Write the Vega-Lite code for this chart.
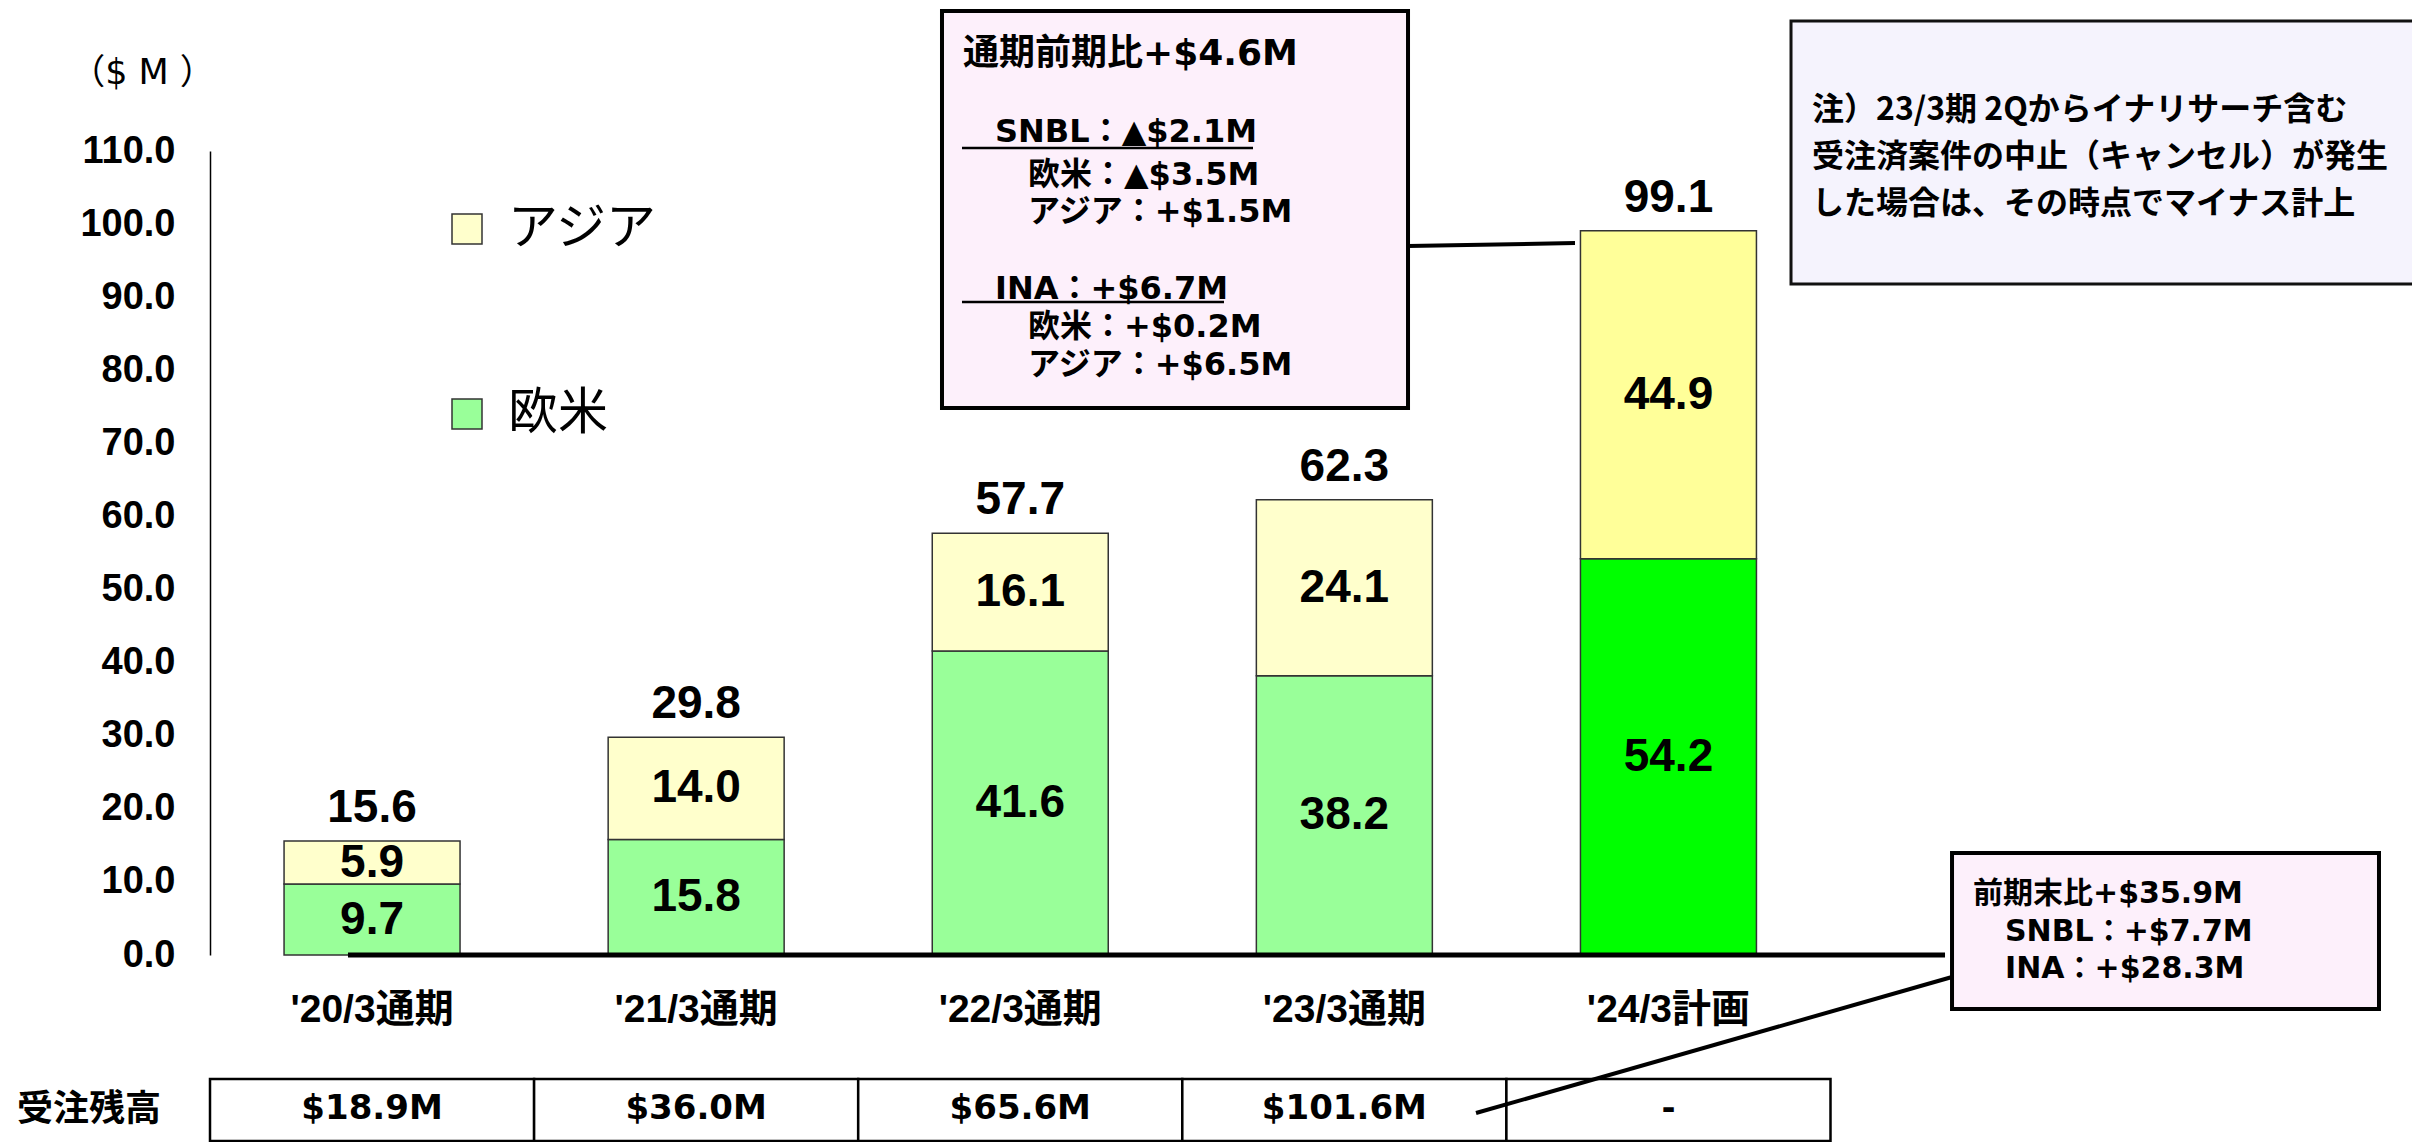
{
  "$schema": "https://vega.github.io/schema/vega-lite/v6.json",
  "background": "white",
  "autosize": "none",
  "width": 2202,
  "height": 804,
  "padding": {"left": 210, "top": 151, "right": 0, "bottom": 187},
  "config": {"view": {"stroke": null}},
  "datasets": {
    "orders": [
      {"period": "'20/3通期", "region": "欧米", "series": "欧米", "value": 9.7},
      {"period": "'20/3通期", "region": "アジア", "series": "アジア", "value": 5.9},
      {"period": "'21/3通期", "region": "欧米", "series": "欧米", "value": 15.8},
      {"period": "'21/3通期", "region": "アジア", "series": "アジア", "value": 14.0},
      {"period": "'22/3通期", "region": "欧米", "series": "欧米", "value": 41.6},
      {"period": "'22/3通期", "region": "アジア", "series": "アジア", "value": 16.1},
      {"period": "'23/3通期", "region": "欧米", "series": "欧米", "value": 38.2},
      {"period": "'23/3通期", "region": "アジア", "series": "アジア", "value": 24.1},
      {"period": "'24/3計画", "region": "欧米", "series": "欧米（計画）", "value": 54.2},
      {"period": "'24/3計画", "region": "アジア", "series": "アジア（計画）", "value": 44.9}
    ],
    "backlog": [
      {"period": "'20/3通期", "backlog": "$18.9M"},
      {"period": "'21/3通期", "backlog": "$36.0M"},
      {"period": "'22/3通期", "backlog": "$65.6M"},
      {"period": "'23/3通期", "backlog": "$101.6M"},
      {"period": "'24/3計画", "backlog": "-"}
    ]
  },
  "layer": [
    {
      "layer": [
        {
          "data": {"name": "orders"},
          "mark": {"type": "bar", "width": {"band": 0.543}, "stroke": "#333", "strokeWidth": 1.5},
          "encoding": {
            "x": {
              "field": "period",
              "type": "nominal",
              "scale": {
                "domain": ["'20/3通期", "'21/3通期", "'22/3通期", "'23/3通期", "'24/3計画"],
                "range": [0, 1620.5],
                "paddingInner": 0,
                "paddingOuter": 0
              },
              "axis": {
                "title": null,
                "domain": false,
                "ticks": false,
                "labelAngle": 0,
                "labelFont": "Liberation Sans, Noto Sans CJK JP",
                "labelFontWeight": "bold",
                "labelFontSize": 39,
                "labelColor": "#000",
                "labelPadding": 35,
                "labelLimit": 400
              }
            },
            "y": {
              "field": "value",
              "type": "quantitative",
              "stack": "zero",
              "scale": {"domain": [0, 110], "nice": false, "zero": false},
              "axis": {
                "title": null,
                "values": [0, 10, 20, 30, 40, 50, 60, 70, 80, 90, 100, 110],
                "format": ".1f",
                "grid": false,
                "ticks": false,
                "domainColor": "#000",
                "domainWidth": 1.5,
                "labelFont": "Liberation Sans",
                "labelFontWeight": "bold",
                "labelFontSize": 38,
                "labelColor": "#000",
                "labelPadding": 35
              }
            },
            "color": {
              "field": "series",
              "type": "nominal",
              "scale": {
                "domain": ["欧米", "アジア", "欧米（計画）", "アジア（計画）"],
                "range": ["#99ff99", "#ffffcc", "#00ff00", "#ffff99"]
              },
              "legend": {
                "title": null,
                "values": ["アジア", "欧米"],
                "orient": "none",
                "legendX": 232,
                "legendY": 53,
                "direction": "vertical",
                "padding": 0,
                "rowPadding": 135,
                "symbolType": "square",
                "symbolSize": 900,
                "symbolStrokeColor": "#333",
                "symbolStrokeWidth": 1.5,
                "labelOffset": 16,
                "labelFont": "Noto Sans CJK JP",
                "labelFontSize": 50,
                "labelColor": "#000",
                "labelLimit": 400
              }
            },
            "order": {"field": "region", "sort": "descending"}
          }
        },
        {
          "data": {"name": "orders"},
          "transform": [
            {"stack": "value", "groupby": ["period"], "sort": [{"field": "region", "order": "descending"}], "as": ["v0", "v1"]},
            {"fold": ["v0", "v1"], "as": ["edge", "pos"]},
            {"aggregate": [{"op": "mean", "field": "pos", "as": "mid"}], "groupby": ["period", "region", "value"]}
          ],
          "mark": {"type": "text", "font": "Liberation Sans", "fontWeight": "bold", "fontSize": 46, "color": "#000", "baseline": "middle"},
          "encoding": {
            "x": {"field": "period", "type": "nominal"},
            "y": {"field": "mid", "type": "quantitative"},
            "text": {"field": "value", "type": "quantitative", "format": ".1f"}
          }
        },
        {
          "data": {"name": "orders"},
          "transform": [
            {"aggregate": [{"op": "sum", "field": "value", "as": "total"}], "groupby": ["period"]}
          ],
          "mark": {"type": "text", "font": "Liberation Sans", "fontWeight": "bold", "fontSize": 46, "color": "#000", "baseline": "alphabetic", "dy": -19},
          "encoding": {
            "x": {"field": "period", "type": "nominal"},
            "y": {"field": "total", "type": "quantitative"},
            "text": {"field": "total", "type": "quantitative", "format": ".1f"}
          }
        },
        {
          "data": {"name": "backlog"},
          "mark": {"type": "rect", "fill": "#fff", "stroke": "#000", "strokeWidth": 2.5},
          "encoding": {
            "x": {"field": "period", "type": "nominal"},
            "y": {"datum": -16.97, "type": "quantitative"},
            "y2": {"datum": -25.45}
          }
        },
        {
          "data": {"name": "backlog"},
          "mark": {"type": "text", "font": "DejaVu Sans", "fontWeight": "bold", "fontSize": 34, "color": "#000", "baseline": "middle"},
          "encoding": {
            "x": {"field": "period", "type": "nominal"},
            "y": {"datum": -21.07, "type": "quantitative"},
            "text": {"field": "backlog", "type": "nominal"}
          }
        }
      ]
    },
    {
      "data": {"values": [{}]},
      "layer": [
        {
          "mark": {"type": "rule", "stroke": "#000", "strokeWidth": 5},
          "encoding": {
            "x": {"datum": -0.0741, "type": "quantitative", "scale": {"domain": [-0.49985, 6.29435], "nice": false, "zero": false}, "axis": null},
            "x2": {"datum": 4.8535},
            "y": {"datum": 0, "type": "quantitative"}
          }
        },
        {
          "mark": {"type": "rect", "fill": "#fdf0fb", "stroke": "#000", "strokeWidth": 4},
          "encoding": {
            "x": {"datum": 1.7587, "type": "quantitative", "scale": {"domain": [-0.49985, 6.29435], "nice": false, "zero": false}, "axis": null},
            "x2": {"datum": 3.1966},
            "y": {"datum": 129.16, "type": "quantitative"},
            "y2": {"datum": 74.84}
          }
        },
        {
          "mark": {"type": "text", "align": "left", "baseline": "alphabetic", "font": "DejaVu Sans, Noto Sans CJK JP", "fontWeight": "bold", "fontSize": 36, "color": "#000"},
          "encoding": {
            "x": {"datum": 1.8235, "type": "quantitative", "scale": {"domain": [-0.49985, 6.29435], "nice": false, "zero": false}, "axis": null},
            "y": {"datum": 121.75, "type": "quantitative"},
            "text": {"value": "通期前期比+$4.6M"}
          }
        },
        {
          "mark": {"type": "text", "align": "left", "baseline": "alphabetic", "font": "DejaVu Sans, Noto Sans CJK JP", "fontWeight": "bold", "fontSize": 32, "color": "#000"},
          "encoding": {
            "x": {"datum": 1.9223, "type": "quantitative", "scale": {"domain": [-0.49985, 6.29435], "nice": false, "zero": false}, "axis": null},
            "y": {"datum": 111.27, "type": "quantitative"},
            "text": {"value": "SNBL：▲$2.1M"}
          }
        },
        {
          "mark": {"type": "text", "align": "left", "baseline": "alphabetic", "lineHeight": 37, "font": "DejaVu Sans, Noto Sans CJK JP", "fontWeight": "bold", "fontSize": 32, "color": "#000"},
          "encoding": {
            "x": {"datum": 2.0241, "type": "quantitative", "scale": {"domain": [-0.49985, 6.29435], "nice": false, "zero": false}, "axis": null},
            "y": {"datum": 105.39, "type": "quantitative"},
            "text": {"value": ["欧米：▲$3.5M", "アジア：+$1.5M"]}
          }
        },
        {
          "mark": {"type": "text", "align": "left", "baseline": "alphabetic", "font": "DejaVu Sans, Noto Sans CJK JP", "fontWeight": "bold", "fontSize": 32, "color": "#000"},
          "encoding": {
            "x": {"datum": 1.9223, "type": "quantitative", "scale": {"domain": [-0.49985, 6.29435], "nice": false, "zero": false}, "axis": null},
            "y": {"datum": 89.79, "type": "quantitative"},
            "text": {"value": "INA：+$6.7M"}
          }
        },
        {
          "mark": {"type": "text", "align": "left", "baseline": "alphabetic", "lineHeight": 38, "font": "DejaVu Sans, Noto Sans CJK JP", "fontWeight": "bold", "fontSize": 32, "color": "#000"},
          "encoding": {
            "x": {"datum": 2.0241, "type": "quantitative", "scale": {"domain": [-0.49985, 6.29435], "nice": false, "zero": false}, "axis": null},
            "y": {"datum": 84.59, "type": "quantitative"},
            "text": {"value": ["欧米：+$0.2M", "アジア：+$6.5M"]}
          }
        },
        {
          "mark": {"type": "rule", "stroke": "#000", "strokeWidth": 2.5},
          "encoding": {
            "x": {"datum": 1.8204, "type": "quantitative", "scale": {"domain": [-0.49985, 6.29435], "nice": false, "zero": false}, "axis": null},
            "x2": {"datum": 2.7183},
            "y": {"datum": 110.41, "type": "quantitative"}
          }
        },
        {
          "mark": {"type": "rule", "stroke": "#000", "strokeWidth": 2.5},
          "encoding": {
            "x": {"datum": 1.8204, "type": "quantitative", "scale": {"domain": [-0.49985, 6.29435], "nice": false, "zero": false}, "axis": null},
            "x2": {"datum": 2.6288},
            "y": {"datum": 89.34, "type": "quantitative"}
          }
        },
        {
          "mark": {"type": "rule", "stroke": "#000", "strokeWidth": 4},
          "encoding": {
            "x": {"datum": 3.1966, "type": "quantitative", "scale": {"domain": [-0.49985, 6.29435], "nice": false, "zero": false}, "axis": null},
            "x2": {"datum": 3.7118},
            "y": {"datum": 97.0, "type": "quantitative"},
            "y2": {"datum": 97.41}
          }
        },
        {
          "mark": {"type": "rect", "fill": "#f5f3fd", "stroke": "#111", "strokeWidth": 3},
          "encoding": {
            "x": {"datum": 4.3783, "type": "quantitative", "scale": {"domain": [-0.49985, 6.29435], "nice": false, "zero": false}, "axis": null},
            "x2": {"datum": 6.3345},
            "y": {"datum": 127.79, "type": "quantitative"},
            "y2": {"datum": 91.80}
          }
        },
        {
          "mark": {"type": "text", "align": "left", "baseline": "alphabetic", "lineHeight": 47, "font": "Noto Sans CJK JP", "fontWeight": "bold", "fontSize": 32, "color": "#000"},
          "encoding": {
            "x": {"datum": 4.4431, "type": "quantitative", "scale": {"domain": [-0.49985, 6.29435], "nice": false, "zero": false}, "axis": null},
            "y": {"datum": 114.24, "type": "quantitative"},
            "text": {"value": ["注）23/3期 2Qからイナリサーチ含む", "受注済案件の中止（キャンセル）が発生", "した場合は、その時点でマイナス計上"]}
          }
        },
        {
          "mark": {"type": "rule", "stroke": "#000", "strokeWidth": 4},
          "encoding": {
            "x": {"datum": 4.8751, "type": "quantitative", "scale": {"domain": [-0.49985, 6.29435], "nice": false, "zero": false}, "axis": null},
            "x2": {"datum": 3.4064},
            "y": {"datum": -3.01, "type": "quantitative"},
            "y2": {"datum": -21.62}
          }
        },
        {
          "mark": {"type": "rect", "fill": "#fdf0fb", "stroke": "#000", "strokeWidth": 4},
          "encoding": {
            "x": {"datum": 4.8751, "type": "quantitative", "scale": {"domain": [-0.49985, 6.29435], "nice": false, "zero": false}, "axis": null},
            "x2": {"datum": 6.1925},
            "y": {"datum": 13.96, "type": "quantitative"},
            "y2": {"datum": -7.39}
          }
        },
        {
          "mark": {"type": "text", "align": "left", "baseline": "alphabetic", "font": "DejaVu Sans, Noto Sans CJK JP", "fontWeight": "bold", "fontSize": 30, "color": "#000"},
          "encoding": {
            "x": {"datum": 4.9398, "type": "quantitative", "scale": {"domain": [-0.49985, 6.29435], "nice": false, "zero": false}, "axis": null},
            "y": {"datum": 7.11, "type": "quantitative"},
            "text": {"value": "前期末比+$35.9M"}
          }
        },
        {
          "mark": {"type": "text", "align": "left", "baseline": "alphabetic", "lineHeight": 37, "font": "DejaVu Sans, Noto Sans CJK JP", "fontWeight": "bold", "fontSize": 30, "color": "#000"},
          "encoding": {
            "x": {"datum": 5.0386, "type": "quantitative", "scale": {"domain": [-0.49985, 6.29435], "nice": false, "zero": false}, "axis": null},
            "y": {"datum": 1.92, "type": "quantitative"},
            "text": {"value": ["SNBL：+$7.7M", "INA：+$28.3M"]}
          }
        },
        {
          "mark": {"type": "text", "align": "center", "baseline": "middle", "font": "Noto Sans CJK JP", "fontWeight": "bold", "fontSize": 36, "color": "#000"},
          "encoding": {
            "x": {"datum": -0.8732, "type": "quantitative", "scale": {"domain": [-0.49985, 6.29435], "nice": false, "zero": false}, "axis": null},
            "y": {"datum": -21.2, "type": "quantitative"},
            "text": {"value": "受注残高"}
          }
        },
        {
          "mark": {"type": "text", "align": "center", "baseline": "middle", "font": "DejaVu Sans, Noto Sans CJK JP", "fontWeight": "normal", "fontSize": 35, "color": "#000"},
          "encoding": {
            "x": {"datum": -0.7081, "type": "quantitative", "scale": {"domain": [-0.49985, 6.29435], "nice": false, "zero": false}, "axis": null},
            "y": {"datum": 120.7, "type": "quantitative"},
            "text": {"value": "（$ M ）"}
          }
        }
      ]
    }
  ],
  "resolve": {"scale": {"x": "independent"}, "axis": {"x": "independent"}}
}
